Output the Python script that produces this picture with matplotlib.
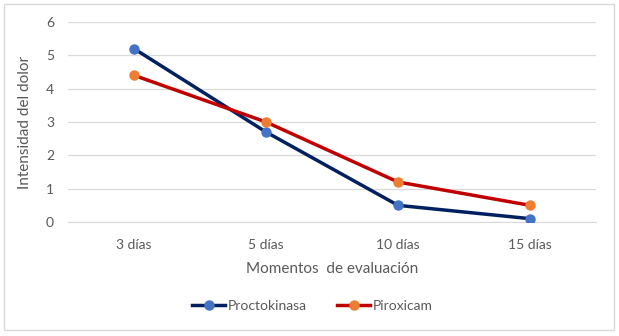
import numpy as np
import matplotlib
matplotlib.use("Agg")
import matplotlib.pyplot as plt
from matplotlib.patches import Rectangle

# datos
momentos = ["3 días", "5 días", "10 días", "15 días"]
proctokinasa = [5.2, 2.7, 0.5, 0.1]
piroxicam = [4.4, 3.0, 1.2, 0.5]

plt.rcParams['font.family'] = ['Lato', 'DejaVu Sans']
gris = '#595959'

fig = plt.figure(figsize=(6.19, 3.36), dpi=100)
ax = fig.add_axes([68/619, 1-222/336, (596-68)/619, 200/336])

x = np.arange(len(momentos))
ax.plot(x, proctokinasa, color='#002060', lw=2.5, marker='o', ms=6.5,
        mfc='#4472C4', mec='#4472C4', label='Proctokinasa', zorder=3)
ax.plot(x, piroxicam, color='#C00000', lw=2.5, marker='o', ms=6.5,
        mfc='#ED7D31', mec='#ED7D31', label='Piroxicam', zorder=3)

ax.set_xlim(-0.5, 3.5)
ax.set_ylim(0, 6)
ax.set_yticks(range(7))
ax.set_xticks(x)
ax.set_xticklabels(momentos)
ax.grid(axis='y', color='#D9D9D9', lw=0.9)
ax.set_axisbelow(True)
for s in ax.spines.values():
    s.set_visible(False)
ax.spines['bottom'].set_visible(True)
ax.spines['bottom'].set_color('#D9D9D9')
ax.tick_params(length=0, colors=gris, labelsize=10, pad=12)
ax.tick_params(axis='y', pad=10)

ax.set_xlabel("Momentos  de evaluación", color=gris, fontsize=11, labelpad=8)
ax.set_ylabel("Intensidad del dolor", color=gris, fontsize=11, labelpad=10)

ax.legend(loc='center', bbox_to_anchor=(312/619, 1-306/336), bbox_transform=fig.transFigure,
          ncol=2, frameon=False, fontsize=10, labelcolor=gris, handlelength=2.4,
          columnspacing=2.2, handletextpad=0.15)

fig.patches.append(Rectangle((4/619, 6/336), 610/619, 326/336, transform=fig.transFigure,
                             fill=False, ec='#D9D9D9', lw=1))

fig.savefig("out.png", dpi=100)
